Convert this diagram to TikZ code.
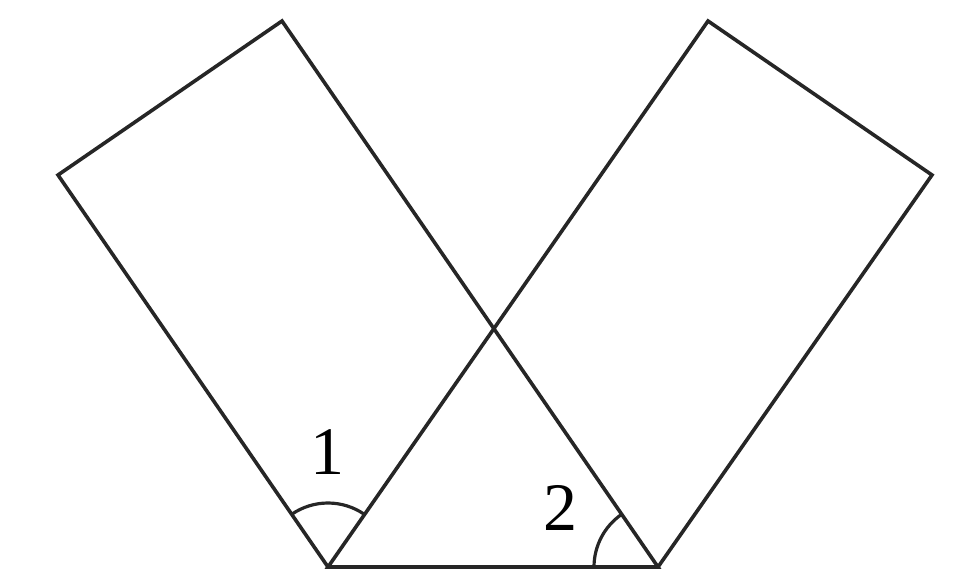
\documentclass[tikz,border=0pt]{standalone}
\usepackage{fontspec}
\setmainfont{Liberation Serif}
\begin{document}
\begin{tikzpicture}[x=1pt,y=-1pt,
  edge/.style={line width=3.6pt,line join=miter,color=black!85},
  arcline/.style={line width=3.2pt,color=black!85},
  lbl/.style={font=\fontsize{68}{68}\selectfont,inner sep=0pt}]
\useasboundingbox (0,0) rectangle (955,581);
\coordinate (A) at (328,567);
\coordinate (B) at (658,567);
\coordinate (L1) at (58,175);
\coordinate (L2) at (282,21);
\coordinate (R1) at (708,21);
\coordinate (R2) at (932,175);
\draw[edge] (A) -- (L1) -- (L2) -- (B) -- (A) -- (R1) -- (R2) -- (B);
\draw[arcline] ([shift={(-124.6:64)}]A) arc[start angle=-124.6,end angle=-55.2,radius=64];
\draw[arcline] ([shift={(-124.6:64)}]B) arc[start angle=-124.6,end angle=-180,radius=64];
\node[lbl] (n1) at (327,452) {1};
\node[lbl] (n2) at (560,508) {2};
\end{tikzpicture}
\end{document}
